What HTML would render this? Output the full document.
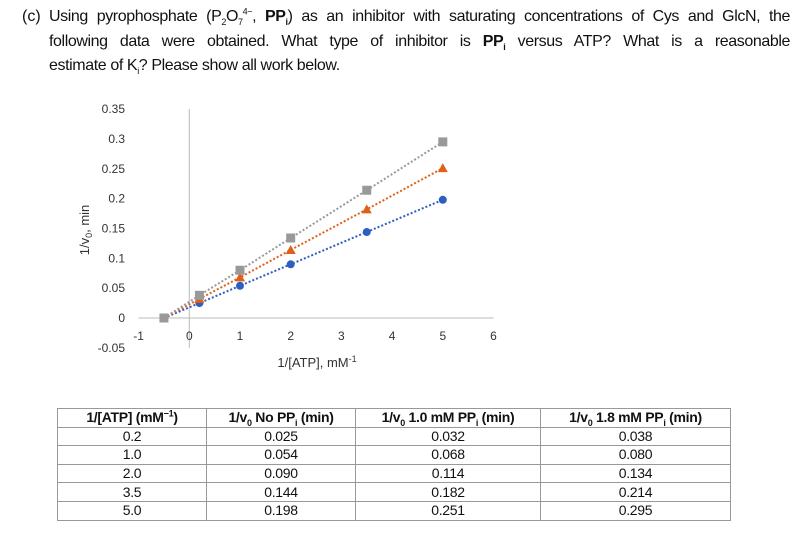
<!DOCTYPE html>
<html><head><meta charset="utf-8"><style>
body{margin:0;background:#fff;width:806px;height:559px;position:relative;overflow:hidden;font-family:"Liberation Sans",sans-serif;color:#111}
.ln{position:absolute;left:49px;width:741px;font-size:16px;letter-spacing:-0.4px;white-space:nowrap;text-align:justify;text-align-last:justify;line-height:18px}
table{position:absolute;left:57px;top:408px;border-collapse:collapse;font-size:14px;letter-spacing:-0.3px}
td,th{border:1px solid #999;text-align:center;height:17.6px;padding:0;line-height:17px}
th{font-weight:bold}
sub,sup{font-size:9px;line-height:0}
</style></head><body>
<div style="position:absolute;left:22px;top:8px;font-size:16px;line-height:18px">(c)</div>
<div class="ln" style="top:8px">Using pyrophosphate (P<sub>2</sub>O<sub>7</sub><sup>4−</sup>, <b>PP<sub>i</sub></b>) as an inhibitor with saturating concentrations of Cys and GlcN, the</div>
<div class="ln" style="top:33px">following data were obtained. What type of inhibitor is <b>PP<sub>i</sub></b> versus ATP? What is a reasonable</div>
<div class="ln" style="top:57px;text-align-last:left;width:auto">estimate of K<sub>i</sub>? Please show all work below.</div>

<svg id="chart" width="806" height="400" style="position:absolute;left:0;top:0" font-family="Liberation Sans, sans-serif"></svg>

<table>
<tr><th style="width:148px">1/[ATP] (mM<sup>−1</sup>)</th><th style="width:148px">1/v<sub>0</sub> No PP<sub>i</sub> (min)</th><th style="width:184px">1/v<sub>0</sub> 1.0 mM PP<sub>i</sub> (min)</th><th style="width:189px">1/v<sub>0</sub> 1.8 mM PP<sub>i</sub> (min)</th></tr>
<tr><td>0.2</td><td>0.025</td><td>0.032</td><td>0.038</td></tr>
<tr><td>1.0</td><td>0.054</td><td>0.068</td><td>0.080</td></tr>
<tr><td>2.0</td><td>0.090</td><td>0.114</td><td>0.134</td></tr>
<tr><td>3.5</td><td>0.144</td><td>0.182</td><td>0.214</td></tr>
<tr><td>5.0</td><td>0.198</td><td>0.251</td><td>0.295</td></tr>
</table>

<script>
const xVals=[0.2,1,2,3.5,5];
const noPPi=[0.025,0.054,0.090,0.144,0.198];
const pp10=[0.032,0.068,0.114,0.182,0.251];
const pp18=[0.038,0.080,0.134,0.214,0.295];
const xTicks=[-1,0,1,2,3,4,5,6];
const yTicks=[-0.05,0,0.05,0.1,0.15,0.2,0.25,0.3,0.35];
const xIntercept=-0.5;
const NS='http://www.w3.org/2000/svg';
const svg=document.getElementById('chart');
const X=v=>189.3+v*50.7;
const Y=v=>318-v*597;
function mk(t,a){const e=document.createElementNS(NS,t);for(const k in a)e.setAttribute(k,a[k]);svg.appendChild(e);return e;}
let e=mk('line',{x1:X(-1),x2:X(6),y1:Y(0),y2:Y(0),stroke:'#bbb'});

e=mk('line',{x1:X(0),x2:X(0),y1:Y(0.35),y2:Y(-0.05),stroke:'#bbb'});

yTicks.forEach(v=>{const t=mk('text',{x:125,y:Y(v)+4,'text-anchor':'end','font-size':12,fill:'#333'});t.textContent=String(v);
});
xTicks.forEach(v=>{const t=mk('text',{x:X(v),y:Y(0)+22,'text-anchor':'middle','font-size':12,fill:'#333'});t.textContent=String(v);
});
let t=mk('text',{x:317,y:367,'text-anchor':'middle','font-size':13,fill:'#333'});t.innerHTML='1/[ATP], mM<tspan dy="-5" font-size="9">-1</tspan>';

t=mk('text',{x:0,y:0,'text-anchor':'middle','font-size':13,fill:'#333',transform:'translate(89,230) rotate(-90)'});t.innerHTML='1/v<tspan font-size="9" dy="3">0</tspan><tspan dy="-3">, min</tspan>';

const series=[[noPPi,'#2e5fbf','circle','series-no-ppi'],[pp10,'#e0601a','tri','series-1mm-ppi'],[pp18,'#999','sq','series-1-8mm-ppi']];
series.forEach(([ys,c,m,n])=>{
 const pts=[[X(xIntercept),Y(0)]].concat(xVals.map((x,i)=>[X(x),Y(ys[i])]));
 const l=mk('polyline',{points:pts.map(p=>p.join(',')).join(' '),fill:'none',stroke:c,'stroke-width':2,'stroke-dasharray':'2,2'});
 
 xVals.forEach((x,i)=>{const cx=X(x),cy=Y(ys[i]);let p;
  if(m==='circle')p=mk('circle',{cx,cy,r:4,fill:c});
  else if(m==='tri')p=mk('polygon',{points:`${cx},${cy-5} ${cx-5},${cy+4} ${cx+5},${cy+4}`,fill:c});
  else p=mk('rect',{x:cx-4.5,y:cy-4.5,width:9,height:9,fill:c});
  });
});
e=mk('rect',{x:X(xIntercept)-4.5,y:Y(0)-4.5,width:9,height:9,fill:'#999'});

</script>
</body></html>
